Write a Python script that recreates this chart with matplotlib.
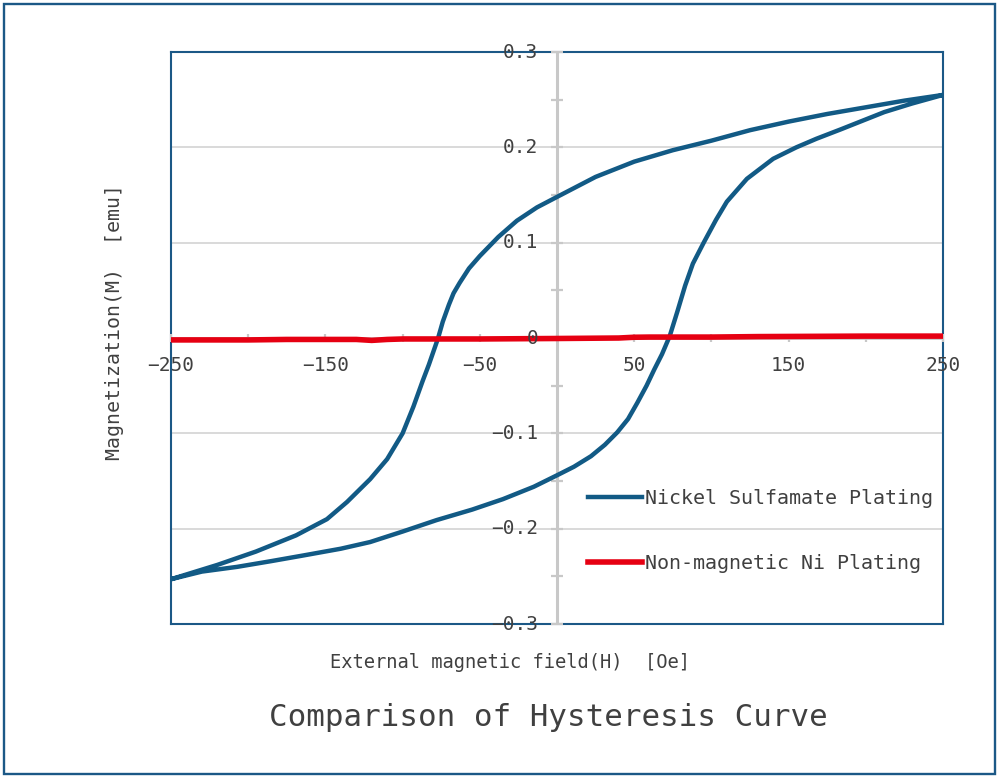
import numpy as np
import matplotlib.pyplot as plt
from matplotlib.patches import Rectangle

# ニッケルスルファミン酸めっき: 上側の枝 (+250 -> -250)
upper_h = [250, 225, 200, 175, 150, 125, 100, 75, 50, 25, 0, -13, -26, -38, -50,
           -57, -63, -67, -70, -74, -77, -80, -83, -87, -93, -100, -110, -121,
           -136, -149, -169, -195, -220, -250]
upper_m = [0.255, 0.249, 0.242, 0.235, 0.227, 0.218, 0.207, 0.197, 0.185, 0.169,
           0.148, 0.137, 0.123, 0.106, 0.086, 0.073, 0.058, 0.047, 0.035, 0.017,
           0.0, -0.014, -0.028, -0.045, -0.072, -0.100, -0.127, -0.148, -0.172,
           -0.190, -0.207, -0.224, -0.238, -0.253]

# 下側の枝 (-250 -> +250)
lower_h = [-250, -230, -207, -185, -164, -140, -121, -100, -78, -55, -35, -15, 0,
           11, 22, 31, 39, 46, 52, 58, 63, 68, 73, 78, 83, 88, 95, 103, 110, 123,
           140, 155, 168, 184, 198, 212, 230, 250]
lower_m = [-0.253, -0.245, -0.240, -0.234, -0.228, -0.221, -0.214, -0.203, -0.191,
           -0.180, -0.169, -0.156, -0.144, -0.135, -0.124, -0.112, -0.099, -0.085,
           -0.068, -0.050, -0.033, -0.017, 0.002, 0.028, 0.055, 0.078, 0.100, 0.124,
           0.143, 0.167, 0.188, 0.200, 0.209, 0.219, 0.228, 0.237, 0.246, 0.255]

# 非磁性Niめっき
non_h = [-250, -200, -175, -150, -130, -120, -110, -100, -50, 0, 40, 50, 60, 100, 130, 200, 250]
non_m = [-0.002, -0.002, -0.0015, -0.0015, -0.0015, -0.0025, -0.0015, -0.001, -0.001,
         -0.0005, 0.0, 0.0008, 0.001, 0.001, 0.0015, 0.002, 0.002]

x_ticks = [-250, -200, -150, -100, -50, 0, 50, 100, 150, 200, 250]
x_labels = {-250: '−250', -150: '−150', -50: '−50', 50: '50', 150: '150', 250: '250'}
y_ticks = [-0.3, -0.25, -0.2, -0.15, -0.1, -0.05, 0, 0.05, 0.1, 0.15, 0.2, 0.25, 0.3]
y_labels = {0.3: '0.3', 0.2: '0.2', 0.1: '0.1', 0: '0', -0.1: '−0.1', -0.2: '−0.2', -0.3: '−0.3'}
grid_y = [-0.2, -0.1, 0.1, 0.2]

plt.rcParams['font.family'] = ['DejaVu Sans Mono']
txt = '#404040'
blue = '#125a85'
frame = '#1b5886'
gray = '#c8c8c8'

fig = plt.figure(figsize=(10, 7.81), dpi=100)
fig.patches.append(Rectangle((0.004, 0.009), 0.991, 0.986, transform=fig.transFigure,
                             fill=False, edgecolor=frame, linewidth=1.7))

ax = fig.add_axes([0.171, 0.201, 0.772, 0.7324])
ax.set_xlim(-250, 250)
ax.set_ylim(-0.3, 0.3)
ax.set_xticks([])
ax.set_yticks([])
for s in ax.spines.values():
    s.set_color(frame)
    s.set_linewidth(1.5)

for g in grid_y:
    ax.axhline(g, color='#d9d9d9', lw=1.4, zorder=1)
ax.axhline(0, color=gray, lw=2.0, zorder=3)
ax.axvline(0, color=gray, lw=2.2, zorder=3)
ax.plot([0] * len(y_ticks), y_ticks, ls='none', marker='_', ms=8.5, mew=1.6, color=gray,
        zorder=3, clip_on=False)
ax.plot(x_ticks, [0] * len(x_ticks), ls='none', marker='|', ms=6, mew=1.6, color=gray,
        zorder=3, clip_on=False)

ax.plot(upper_h + lower_h, upper_m + lower_m, color=blue, lw=3.2, zorder=4,
        solid_joinstyle='round', label='Nickel Sulfamate Plating')
ax.plot(non_h, non_m, color='#e60012', lw=4.0, zorder=5, label='Non-magnetic Ni Plating')

for v, s in y_labels.items():
    ax.annotate(s, xy=(0, v), xytext=(-13.5, 0), textcoords='offset points',
                ha='right', va='center', fontsize=14, color=txt, zorder=6,
                annotation_clip=False)
for v, s in x_labels.items():
    ax.annotate(s, xy=(v, 0), xytext=(0, -19.5), textcoords='offset points',
                ha='center', va='center', fontsize=14, color=txt, zorder=6,
                annotation_clip=False)

fig.text(0.115, 1 - 322 / 781, 'Magnetization(M)  [emu]', rotation=90, ha='center',
         va='center', fontsize=14.3, color=txt)
fig.text(0.510, 1 - 662 / 781, 'External magnetic field(H)  [Oe]', ha='center',
         va='center', fontsize=13.5, color=txt)
fig.text(0.548, 1 - 717 / 781, 'Comparison of Hysteresis Curve', ha='center',
         va='center', fontsize=22.2, color=txt)

ax.legend(loc='center left', bbox_to_anchor=(0.578, 1 - 531 / 781),
          bbox_transform=fig.transFigure, frameon=False, fontsize=14.4,
          handlelength=2.7, handletextpad=0.15, labelspacing=2.3, borderpad=0,
          labelcolor=txt)

fig.savefig('out.png', dpi=100)
